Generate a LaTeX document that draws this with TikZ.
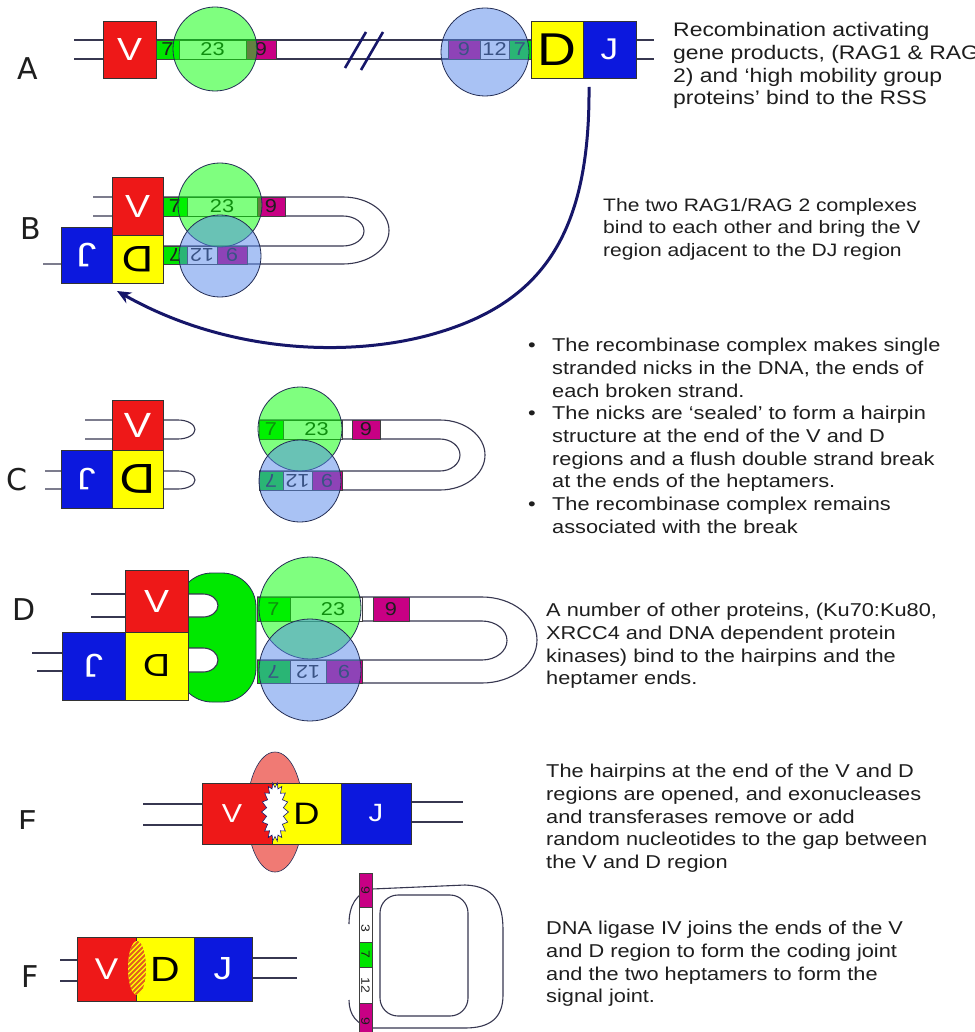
\documentclass[tikz,border=0pt]{standalone}
\usepackage{fontspec}
\setmainfont{Liberation Sans}[FakeStretch=1.17]
\newfontfamily\labfont{DejaVu Sans}
\usetikzlibrary{arrows.meta}

\definecolor{vred}{RGB}{238,24,24}
\definecolor{dyel}{RGB}{255,255,0}
\definecolor{jblu}{RGB}{12,24,222}
\definecolor{hept}{RGB}{0,228,0}
\definecolor{nona}{RGB}{200,0,132}
\definecolor{ragg}{RGB}{0,255,0}
\definecolor{ragb}{RGB}{85,135,235}
\definecolor{rim}{RGB}{35,45,85}
\definecolor{dnac}{RGB}{55,55,80}
\definecolor{navy}{RGB}{22,22,105}
\definecolor{kuc}{RGB}{0,232,0}
\definecolor{pinkc}{RGB}{240,122,116}
\definecolor{hatchc}{RGB}{225,95,30}
\definecolor{ink}{RGB}{30,30,30}

\newcommand\txtfont{\fontsize{18.6}{22.7}\selectfont}
\newcommand\gf[1]{\fontsize{#1}{#1}\selectfont}

\tikzset{
  strandline/.style={draw=dnac, line width=1.1pt},
  gene/.style={draw=black!80, line width=0.7pt, inner sep=0pt, outer sep=0pt, text=white},
  vseg/.style={gene, fill=vred},
  dseg/.style={gene, fill=dyel, text=black},
  jseg/.style={gene, fill=jblu},
  rss/.style={draw=black!75, line width=0.6pt, inner sep=0pt, outer sep=0pt, font=\gf{18.6}, text=ink},
  hep/.style={rss, fill=hept},
  non/.style={rss, fill=nona},
  spc/.style={rss, fill=white},
  rag/.style={circle, draw=rim, line width=0.8pt, fill opacity=0.5, inner sep=0pt},
  ragA/.style={rag, fill=ragg},
  ragB/.style={rag, fill=ragb},
  rowlabel/.style={font=\labfont\gf{30}, text=ink, inner sep=0pt},
  note/.style={font=\txtfont, text=ink, align=left, anchor=north west, inner sep=0pt},
  bigarrow/.style={draw=navy, line width=3pt, -{Stealth[length=14pt,width=12pt]}},
}

\begin{document}
\begin{tikzpicture}[x=1pt, y=-1pt]
\useasboundingbox (0,0) rectangle (974,1032);
\fill[white] (0,0) rectangle (974,1032);

% ---------------- A : germline V ... DJ ----------------
\node[rowlabel] (labA) at (28,69) {A};
\draw[strandline] (74,40) -- (654,40);
\draw[strandline] (74,59) -- (654,59);
\node[vseg, font=\gf{32}, minimum width=53, minimum height=57] (vA) at (129.5,49.5) {V};
\node[hep, minimum width=23, minimum height=19] (h7A) at (167.5,49.5) {7};
\node[spc, minimum width=67, minimum height=19] (s23A) at (212.5,49.5) {23};
\node[non, minimum width=30, minimum height=19] (n9A) at (261,49.5) {9};
\node[ragA, minimum size=84] (ragA1) at (215,49) {};
\draw[navy, line width=2.6pt] (345,68) -- (366,32);
\draw[navy, line width=2.6pt] (361,70) -- (383,32);
\node[non, minimum width=32, minimum height=19] (n9A2) at (464,49.5) {9};
\node[spc, minimum width=29, minimum height=19] (s12A) at (494.5,49.5) {12};
\node[hep, minimum width=22, minimum height=19] (h7A2) at (520,49.5) {7};
\node[ragB, minimum size=88] (ragA2) at (485,52) {};
\node[dseg, font=\gf{46}, minimum width=52, minimum height=57] (dA) at (557,49.5) {D};
\node[jseg, font=\gf{30}, minimum width=53, minimum height=57] (jA) at (609.5,49.5) {J};
\node[note, font=\fontsize{19.6}{22.7}\selectfont] (noteA) at (673,22.5) {Recombination activating\\gene products, (RAG1 \& RAG\\2) and ‘high mobility group\\proteins’ bind to the RSS};

% ---------------- B : the two RSS brought together ----------------
\node[rowlabel] (labB) at (31,229) {B};
\draw[strandline] (93,197) -- (343,197) arc[start angle=-90, end angle=90, x radius=46, y radius=33.5] -- (43,264);
\draw[strandline] (93,216) -- (343,216) arc[start angle=-90, end angle=90, x radius=21, y radius=15] -- (163,246);
\node[hep, minimum width=24, minimum height=19] (h7B) at (175,206.5) {7};
\node[spc, minimum width=70, minimum height=19] (s23B) at (222,206.5) {23};
\node[non, minimum width=28, minimum height=19] (n9B) at (271,206.5) {9};
\node[hep, rotate=180, minimum width=24, minimum height=18] (h7B2) at (175,255) {7};
\node[spc, rotate=180, minimum width=30, minimum height=18] (s12B) at (202,255) {12};
\node[non, rotate=180, minimum width=30, minimum height=18] (n9B2) at (232,255) {9};
\node[ragA, minimum size=84] (ragB1) at (220,205) {};
\node[ragB, minimum size=82] (ragB2) at (220,256) {};
\node[vseg, font=\gf{32}, minimum width=51, minimum height=58] (vB) at (137.5,206) {V};
\node[dseg, rotate=180, font=\gf{37}, minimum width=51, minimum height=48] (dB) at (137.5,259) {D};
\node[jseg, rotate=180, font=\gf{34}, minimum width=51, minimum height=56] (jB) at (86.5,255) {J};
\node[note, font=\fontsize{18}{22.7}\selectfont] (noteB) at (603,198) {The two RAG1/RAG 2 complexes\\bind to each other and bring the V\\region adjacent to the DJ region};

% arrow from the DJ end round to the V end
\coordinate (arrowfrom) at (589,87);
\coordinate (arrowbend) at (440,332);
\coordinate (arrowto) at (117,291);
\draw[bigarrow] (arrowfrom) .. controls (590,230) and (545,300) .. (arrowbend)
  .. controls (356,358) and (230,355) .. (arrowto);

% ---------------- C : hairpins and signal ends ----------------
\node[rowlabel] (labC) at (17,480) {C};
\draw[strandline] (85,420) -- (178,420) arc[start angle=-90, end angle=90, x radius=17, y radius=9.5] -- (85,439);
\draw[strandline] (45,471) -- (178,471) arc[start angle=-90, end angle=90, x radius=17, y radius=9] -- (45,489);
\node[vseg, font=\gf{35}, minimum width=51, minimum height=50] (vC) at (137.5,425) {V};
\node[dseg, rotate=180, font=\gf{42}, minimum width=51, minimum height=58] (dC) at (137.5,479) {D};
\node[jseg, rotate=180, font=\gf{31}, minimum width=51, minimum height=58] (jC) at (86.5,479) {J};

\draw[strandline] (259,420) -- (440,420) arc[start angle=-90, end angle=90, x radius=45, y radius=35] -- (259,490);
\draw[strandline] (259,439) -- (440,439) arc[start angle=-90, end angle=90, x radius=20, y radius=16] -- (259,471);
\node[hep, minimum width=24, minimum height=19] (h7C) at (271,429.5) {7};
\node[spc, minimum width=59, minimum height=19] (s23C) at (312.5,429.5) {\hspace*{8pt}23};
\node[non, minimum width=28, minimum height=19] (n9C) at (366,429.5) {9};
\node[hep, rotate=180, minimum width=24, minimum height=19] (h7C2) at (271,480.5) {7};
\node[spc, rotate=180, minimum width=29, minimum height=19] (s12C) at (297.5,480.5) {12};
\node[non, rotate=180, minimum width=30, minimum height=19] (n9C2) at (327,480.5) {9};
\node[ragA, minimum size=84] (ragC1) at (300,429) {};
\node[ragB, minimum size=82] (ragC2) at (300,481) {};
\node[note] (noteC) at (528,338) {\makebox[24pt][l]{•}The recombinase complex makes single\\
\hspace*{24pt}stranded nicks in the DNA, the ends of\\
\hspace*{24pt}each broken strand.\\
\makebox[24pt][l]{•}The nicks are ‘sealed’ to form a hairpin\\
\hspace*{24pt}structure at the end of the V and D\\
\hspace*{24pt}regions and a flush double strand break\\
\hspace*{24pt}at the ends of the heptamers.\\
\makebox[24pt][l]{•}The recombinase complex remains\\
\hspace*{24pt}associated with the break};

% ---------------- D : end-binding proteins ----------------
\node[rowlabel] (labD) at (24,610) {D};
\draw[draw=rim, line width=0.8pt, fill=kuc, rounded corners=34] (178,573) rectangle (256,702);
\draw[strandline] (91,594) -- (125,594);
\draw[strandline] (91,617) -- (125,617);
\draw[strandline] (32,653) -- (62,653);
\draw[strandline] (37,671) -- (62,671);
\filldraw[strandline, fill=white] (188,594) -- (203,594) arc[start angle=-90, end angle=90, x radius=15, y radius=11.5] -- (188,617);
\filldraw[strandline, fill=white] (188,648) -- (203,648) arc[start angle=-90, end angle=90, x radius=15, y radius=12] -- (188,672);
\node[vseg, font=\gf{32}, minimum width=63, minimum height=62] (vD) at (156.5,601) {V};
\node[dseg, rotate=180, font=\gf{32}, minimum width=63, minimum height=68] (dD) at (156.5,666) {D};
\node[jseg, rotate=180, font=\gf{33}, minimum width=63, minimum height=68] (jD) at (93.5,666) {J};

\draw[strandline] (257,597) -- (482,597) arc[start angle=-90, end angle=90, x radius=55, y radius=43] -- (257,683);
\draw[strandline] (257,621) -- (482,621) arc[start angle=-90, end angle=90, x radius=25, y radius=19.5] -- (257,660);
\node[hep, minimum width=33, minimum height=24] (h7D) at (273.5,609) {7};
\node[spc, minimum width=72, minimum height=24] (s23D) at (326,609) {\hspace*{14pt}23};
\node[non, minimum width=36, minimum height=24] (n9D) at (391,609) {9};
\node[hep, rotate=180, minimum width=33, minimum height=23] (h7D2) at (273.5,671.5) {7};
\node[spc, rotate=180, minimum width=36, minimum height=23] (s12D) at (308,671.5) {12};
\node[non, rotate=180, minimum width=36, minimum height=23] (n9D2) at (344,671.5) {9};
\node[ragA, minimum size=102] (ragD1) at (310,608) {};
\node[ragB, minimum size=102] (ragD2) at (310,670) {};
\node[note] (noteD) at (546,603) {A number of other proteins, (Ku70:Ku80,\\XRCC4 and DNA dependent protein\\kinases) bind to the hairpins and the\\heptamer ends.};

% ---------------- E : opened hairpins, junction processing ----------------
\begin{scope}
  \clip (0,795) rectangle (70,828.3);
  \node[rowlabel] (labE) at (28,822) {E};
\end{scope}
\filldraw[fill=pinkc, draw=rim, line width=0.6pt] (275,812) ellipse[x radius=28, y radius=60];
\draw[strandline] (143,804) -- (202,804);
\draw[strandline] (143,825) -- (202,825);
\draw[strandline] (411,802) -- (463,802);
\draw[strandline] (411,822) -- (463,822);
\node[vseg, font=\gf{26}, minimum width=70, minimum height=61] (vE) at (237,813.5) {\hspace*{-10pt}V};
\node[dseg, font=\gf{31}, minimum width=69, minimum height=61] (dE) at (306.5,813.5) {D};
\node[jseg, font=\gf{25}, minimum width=70, minimum height=61] (jE) at (376,813.5) {J};
\filldraw[fill=white, draw=navy, line width=0.6pt]
  plot[domain=0:360, samples=37] ({275+(11+2.5*cos(18*\x))*cos(\x)}, {812+(27+2.5*cos(18*\x))*sin(\x)}) -- cycle;
\node[note] (noteE) at (546,764) {The hairpins at the end of the V and D\\regions are opened, and exonucleases\\and transferases remove or add\\random nucleotides to the gap between\\the V and D region};

% ---------------- F : coding joint and signal joint ----------------
\node[rowlabel] (labF) at (30,977) {F};
\draw[strandline] (60,960) -- (77,960);
\draw[strandline] (60,981) -- (77,981);
\draw[strandline] (252,958) -- (297,958);
\draw[strandline] (252,978) -- (297,978);
\node[vseg, font=\gf{30}, minimum width=59, minimum height=64] (vF) at (106.5,969) {V};
\node[dseg, font=\gf{35}, minimum width=58, minimum height=64] (dF) at (165,969) {D};
\node[jseg, font=\gf{32}, minimum width=58, minimum height=64] (jF) at (223,969) {J};
\begin{scope}
  \clip (137,968) ellipse[x radius=9, y radius=27];
  \fill[dyel] (120,935) rectangle (160,1000);
  \foreach \k in {0,...,19}
    \draw[hatchc, line width=1.8pt] (120,{935+5*\k}) -- +(30,-30);
\end{scope}

% signal joint: circular excision product
\draw[strandline] (349,924) .. controls (349,906) and (356,893) .. (372,889)
  -- (465,885) .. controls (495,886) and (503,904) .. (503,930)
  -- (503,995) .. controls (503,1018) and (490,1028) .. (465,1028)
  -- (372,1028) .. controls (357,1025) and (349,1015) .. (349,1000);
\draw[strandline, rounded corners=18] (380,895) rectangle (468,1016);
\node[non, font=\gf{12}, minimum width=13, minimum height=34] (sj9a) at (365.5,890) {\rotatebox{-90}{9}};
\node[spc, font=\gf{12}, minimum width=13, minimum height=35] (sj23) at (365.5,924.5) {\raisebox{-8pt}{\rotatebox{-90}{3}}};
\node[hep, font=\gf{12}, minimum width=13, minimum height=25] (sj7) at (365.5,954.5) {\rotatebox{-90}{7}};
\node[spc, font=\gf{12}, minimum width=13, minimum height=36] (sj12) at (365.5,985) {\rotatebox{-90}{12}};
\node[non, font=\gf{12}, minimum width=13, minimum height=37] (sj9b) at (365.5,1021.5) {\raisebox{4pt}{\rotatebox{-90}{9}}};
\node[note] (noteF) at (546,921) {DNA ligase IV joins the ends of the V\\and D region to form the coding joint\\and the two heptamers to form the\\signal joint.};
\end{tikzpicture}
\end{document}
